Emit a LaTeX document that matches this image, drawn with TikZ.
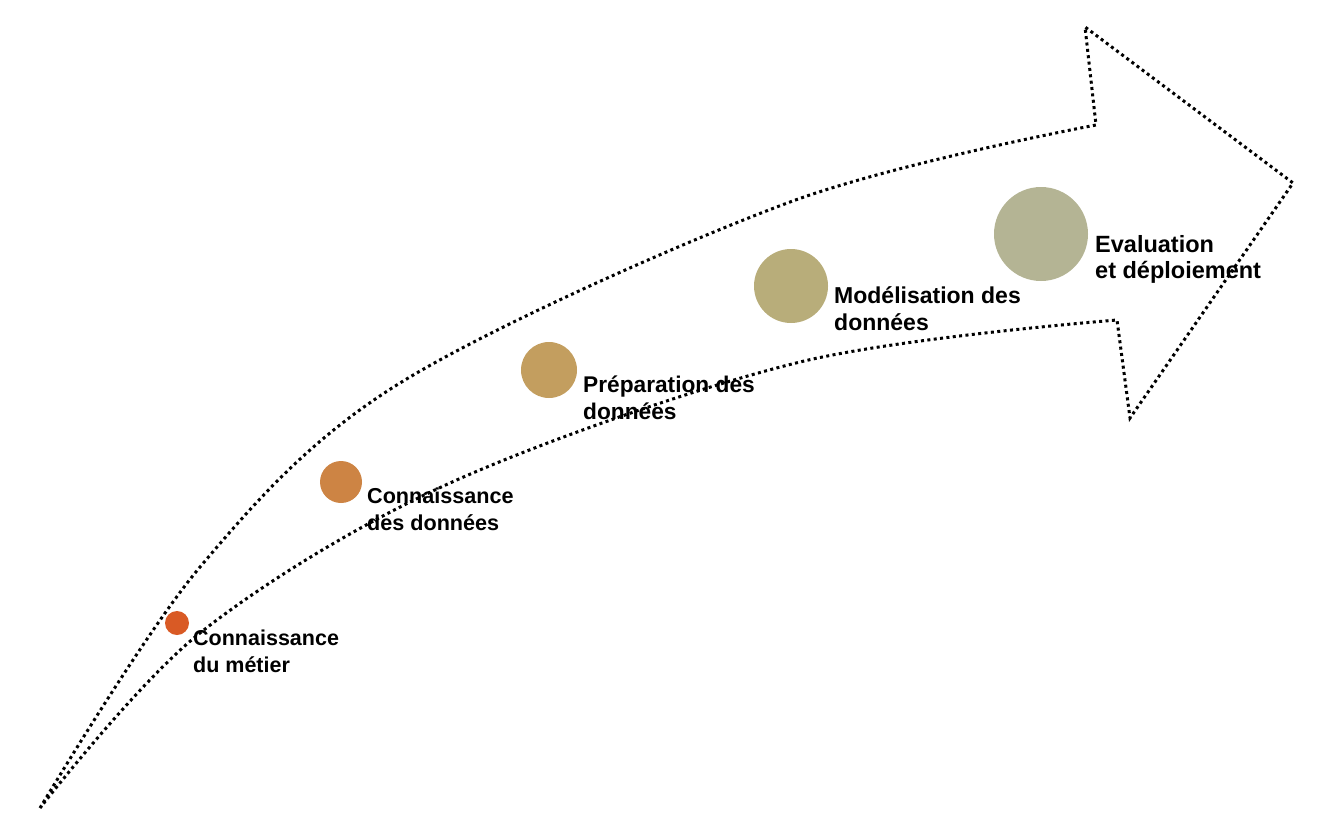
\documentclass[tikz,border=0pt]{standalone}
\usepackage{fontspec}
\setmainfont{Liberation Sans}
\definecolor{cA}{HTML}{D95A25}
\definecolor{cB}{HTML}{CD8444}
\definecolor{cC}{HTML}{C39E5F}
\definecolor{cD}{HTML}{B8AD7A}
\definecolor{cE}{HTML}{B4B494}
\tikzset{
  dotline/.style={line width=3pt, dash pattern=on 3pt off 3.4pt, black},
  dotc/.style={circle, inner sep=0pt, draw=none},
  lbl/.style={anchor=base west, align=left, inner sep=0pt,
    font=\fontsize{#1}{27pt}\selectfont\bfseries},
  lbl/.default=21.5pt
}
\begin{document}
\begin{tikzpicture}[x=1pt,y=-1pt]
\useasboundingbox (0,0) rectangle (1321,827);
\coordinate (tail) at (40,808);
\coordinate (n1) at (1096,125);
\coordinate (b1) at (1085,27);
\coordinate (tip) at (1293,183);
\coordinate (b2) at (1130,418);
\coordinate (n2) at (1117,320);
\draw[dotline] plot[smooth, tension=0.55] coordinates {(40,808) (200,567) (400,383) (790,202) (1096,125)}
  -- (b1) -- (tip) -- (b2) -- (n2)
  -- plot[smooth, tension=0.55] coordinates {(1117,320) (800,362) (450,483) (200,633) (40,808)};
\node[dotc, fill=cA, minimum size=24pt] (d1) at (177,623) {};
\node[dotc, fill=cB, minimum size=42pt] (d2) at (341,482) {};
\node[dotc, fill=cC, minimum size=56pt] (d3) at (549,370) {};
\node[dotc, fill=cD, minimum size=74pt] (d4) at (791,286) {};
\node[dotc, fill=cE, minimum size=94pt] (d5) at (1041,234) {};
\node[lbl=21.5pt] (t1) at (193,672) {Connaissance\\du métier};
\node[lbl=21.6pt] (t2) at (367,530) {Connaissance\\des données};
\node[lbl=22.7pt] (t3) at (583,419) {Préparation des\\données};
\node[lbl=23pt] (t4) at (834,330) {Modélisation des\\données};
\node[lbl=23.5pt, font=\fontsize{23.5pt}{25.5pt}\selectfont\bfseries] (t5) at (1095,278) {Evaluation\\et déploiement};
\end{tikzpicture}
\end{document}
